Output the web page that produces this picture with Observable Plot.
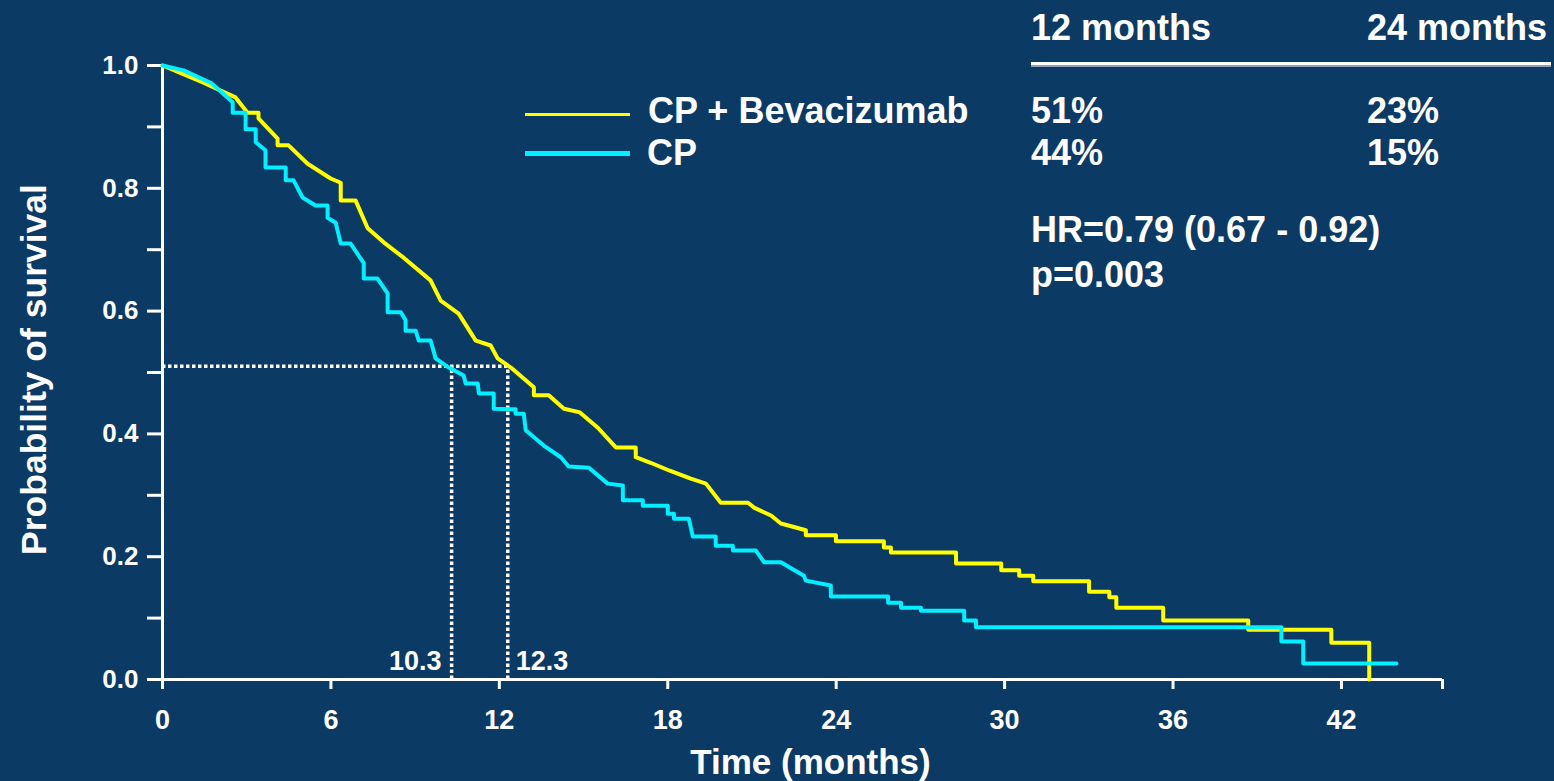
<!DOCTYPE html>
<html><head><meta charset="utf-8">
<script src="https://cdn.jsdelivr.net/npm/d3@7"></script>
<script src="https://cdn.jsdelivr.net/npm/@observablehq/plot@0.6"></script>
<style>
html,body{margin:0;padding:0;background:#0b3a64;}
#wrap{position:relative;width:1554px;height:781px;overflow:hidden;font-family:"Liberation Sans",Arial,sans-serif;font-weight:bold;color:#fff;}
.t{position:absolute;font-size:36px;line-height:36px;white-space:nowrap;}
.bar{position:absolute;}
svg{position:absolute;left:0;top:0;}
</style></head><body><div id="wrap"></div>
<script>
// ---- data ----
const seriesNames = ["CP + Bevacizumab", "CP"];
const seriesColors = ["#ffff00", "#00f0ff"];

const bevTime = [0,1.46,2.60,3.03,3.42,3.42,4.10,4.10,4.49,5.17,5.99,6.35,6.35,6.88,7.31,7.88,8.59,9.55,9.91,10.55,11.16,11.69,11.94,12.41,13.23,13.23,13.76,14.30,14.87,15.51,16.15,16.86,16.86,17.39,18.07,18.82,19.36,19.89,20.86,21.07,21.68,22.03,22.92,22.92,23.99,23.99,25.70,25.70,25.95,25.95,28.27,28.27,29.88,29.88,30.52,30.52,31.02,31.02,33.01,33.01,33.73,33.73,33.98,33.98,35.65,35.65,38.68,38.68,41.64,41.64,42.99,42.99];
const bevSurv = [1.000,0.972,0.948,0.923,0.923,0.914,0.881,0.870,0.870,0.840,0.816,0.809,0.780,0.780,0.735,0.712,0.687,0.650,0.617,0.596,0.552,0.544,0.523,0.508,0.476,0.463,0.463,0.441,0.435,0.410,0.378,0.378,0.362,0.353,0.340,0.327,0.319,0.288,0.288,0.280,0.267,0.254,0.243,0.235,0.235,0.225,0.225,0.215,0.215,0.207,0.207,0.189,0.189,0.178,0.178,0.169,0.169,0.160,0.160,0.143,0.143,0.134,0.134,0.117,0.117,0.096,0.096,0.081,0.081,0.060,0.060,0.000];

const cpTime = [0,0.75,1.75,2.50,2.50,2.96,2.96,3.32,3.32,3.67,3.67,4.39,4.39,4.67,4.99,5.45,5.88,5.88,6.17,6.35,6.70,7.17,7.17,7.66,8.02,8.02,8.49,8.66,8.66,9.02,9.13,9.55,9.73,10.20,10.73,10.80,11.23,11.27,11.80,11.80,12.58,12.58,12.87,12.94,13.58,14.19,14.47,15.19,15.86,16.40,16.40,17.11,17.11,18.00,18.00,18.22,18.22,18.75,18.89,19.71,19.71,20.32,20.32,21.14,21.43,22.03,22.85,22.92,23.81,23.81,25.85,25.85,26.31,26.31,27.02,27.02,28.56,28.56,28.98,28.98,39.86,39.86,40.64,40.64,43.96];
const cpSurv = [1,0.992,0.971,0.940,0.923,0.923,0.896,0.896,0.875,0.862,0.834,0.834,0.813,0.813,0.785,0.772,0.772,0.752,0.744,0.710,0.710,0.678,0.653,0.653,0.629,0.598,0.598,0.585,0.568,0.568,0.552,0.552,0.523,0.508,0.495,0.482,0.482,0.466,0.466,0.441,0.440,0.433,0.433,0.406,0.381,0.362,0.347,0.345,0.319,0.316,0.292,0.292,0.283,0.283,0.270,0.270,0.262,0.262,0.233,0.233,0.218,0.218,0.210,0.210,0.191,0.191,0.169,0.161,0.153,0.135,0.135,0.125,0.125,0.117,0.117,0.112,0.112,0.096,0.096,0.085,0.085,0.062,0.062,0.026,0.026];

const xTicks = [0, 6, 12, 18, 24, 30, 36, 42];
const xEnd = 45.6;
const yTicks = [0, 0.2, 0.4, 0.6, 0.8, 1.0];
const yMinorTicks = [0.1, 0.3, 0.5, 0.7, 0.9];
const medianTimes = [10.3, 12.3];
const medianLevel = 0.51;

const tableHeaders = ["12 months", "24 months"];
const tableBev = ["51%", "23%"];
const tableCp = ["44%", "15%"];
const hrText = "HR=0.79 (0.67 - 0.92)";
const pText = "p=0.003";
const xLabel = "Time (months)";
const yLabel = "Probability of survival";

// ---- build ----
const rows = [];
bevTime.forEach((t, i) => rows.push({t, s: bevSurv[i], series: seriesNames[0]}));
cpTime.forEach((t, i) => rows.push({t, s: cpSurv[i], series: seriesNames[1]}));

const font = '"Liberation Sans", Arial, sans-serif';
const white = "#ffffff";

const chart = Plot.plot({
  width: 1554, height: 781,
  marginLeft: 162, marginRight: 112, marginTop: 65, marginBottom: 102,
  style: {background: "transparent", color: white, fontFamily: font, fontWeight: "bold", overflow: "visible"},
  x: {domain: [0, xEnd]},
  y: {domain: [0, 1]},
  color: {domain: seriesNames, range: seriesColors},
  marks: [
    Plot.axisY(yTicks, {tickSize: 15, tickPadding: 9, tickFormat: d3.format(".1f"), fontSize: 26, strokeWidth: 3, stroke: white, fill: white, label: null}),
    Plot.axisY(yMinorTicks, {tickSize: 15, tickFormat: () => "", strokeWidth: 3, stroke: white, label: null}),
    Plot.axisX(xTicks, {tickSize: 10, tickPadding: 20, fontSize: 27, strokeWidth: 3, stroke: white, fill: white, label: null}),
    Plot.axisX([xEnd], {tickSize: 10, tickFormat: () => "", strokeWidth: 3, stroke: white, label: null}),
    Plot.ruleX([0], {y1: 0, y2: 1, stroke: white, strokeWidth: 3}),
    Plot.ruleY([0], {x1: 0, x2: xEnd, stroke: white, strokeWidth: 3}),
    Plot.ruleY([medianLevel], {x1: 0, x2: d3.max(medianTimes), stroke: white, strokeWidth: 3.5, strokeDasharray: "3.5,2.5"}),
    Plot.ruleX(medianTimes, {y1: 0, y2: medianLevel, stroke: white, strokeWidth: 3.5, strokeDasharray: "3.5,2.5"}),
    Plot.text([medianTimes[0]], {x: d => d, y: 0, text: d => d.toFixed(1), textAnchor: "end", lineAnchor: "middle", dx: -10, dy: -18, fontSize: 27, fill: white}),
    Plot.text([medianTimes[1]], {x: d => d, y: 0, text: d => d.toFixed(1), textAnchor: "start", lineAnchor: "middle", dx: 8, dy: -18, fontSize: 27, fill: white}),
    Plot.line(rows.filter(r => r.series === seriesNames[0]), {x: "t", y: "s", stroke: "series", strokeWidth: 4, curve: "linear"}),
    Plot.line(rows.filter(r => r.series === seriesNames[1]), {x: "t", y: "s", stroke: "series", strokeWidth: 4, curve: "linear"}),
    Plot.text([xLabel], {frameAnchor: "bottom", textAnchor: "middle", lineAnchor: "middle", text: d => d, dx: 8, dy: 83, fontSize: 35, fill: white}),
    Plot.text([yLabel], {frameAnchor: "left", textAnchor: "middle", lineAnchor: "middle", text: d => d, dx: -128, dy: -3, rotate: -90, fontSize: 35.5, fill: white})
  ]
});
const wrap = document.getElementById("wrap");
wrap.appendChild(chart);

// ---- legend & table (HTML annotations) ----
function addText(txt, left, top) {
  const d = document.createElement("div");
  d.className = "t"; d.textContent = txt;
  d.style.left = left + "px"; d.style.top = top + "px";
  wrap.appendChild(d);
}
function addBar(left, top, w, h, color) {
  const d = document.createElement("div");
  d.className = "bar";
  Object.assign(d.style, {left: left + "px", top: top + "px", width: w + "px", height: h + "px", background: color});
  wrap.appendChild(d);
}
addBar(525, 113, 105, 3, seriesColors[0]);
addBar(525, 151, 105, 5, seriesColors[1]);
addText(seriesNames[0], 648, 92.5);
addText(seriesNames[1], 647, 134.5);
const colX = [1031, 1367];
tableHeaders.forEach((h, i) => addText(h, colX[i], 9.5));
addBar(1031, 62, 520, 3, "#ffffff");
addBar(1031, 65, 520, 2, "#8ea2b6");
tableBev.forEach((v, i) => addText(v, colX[i], 92.5));
tableCp.forEach((v, i) => addText(v, colX[i], 134.5));
addText(hrText, 1031, 211.5);
addText(pText, 1031, 256.5);
</script>
</body></html>
